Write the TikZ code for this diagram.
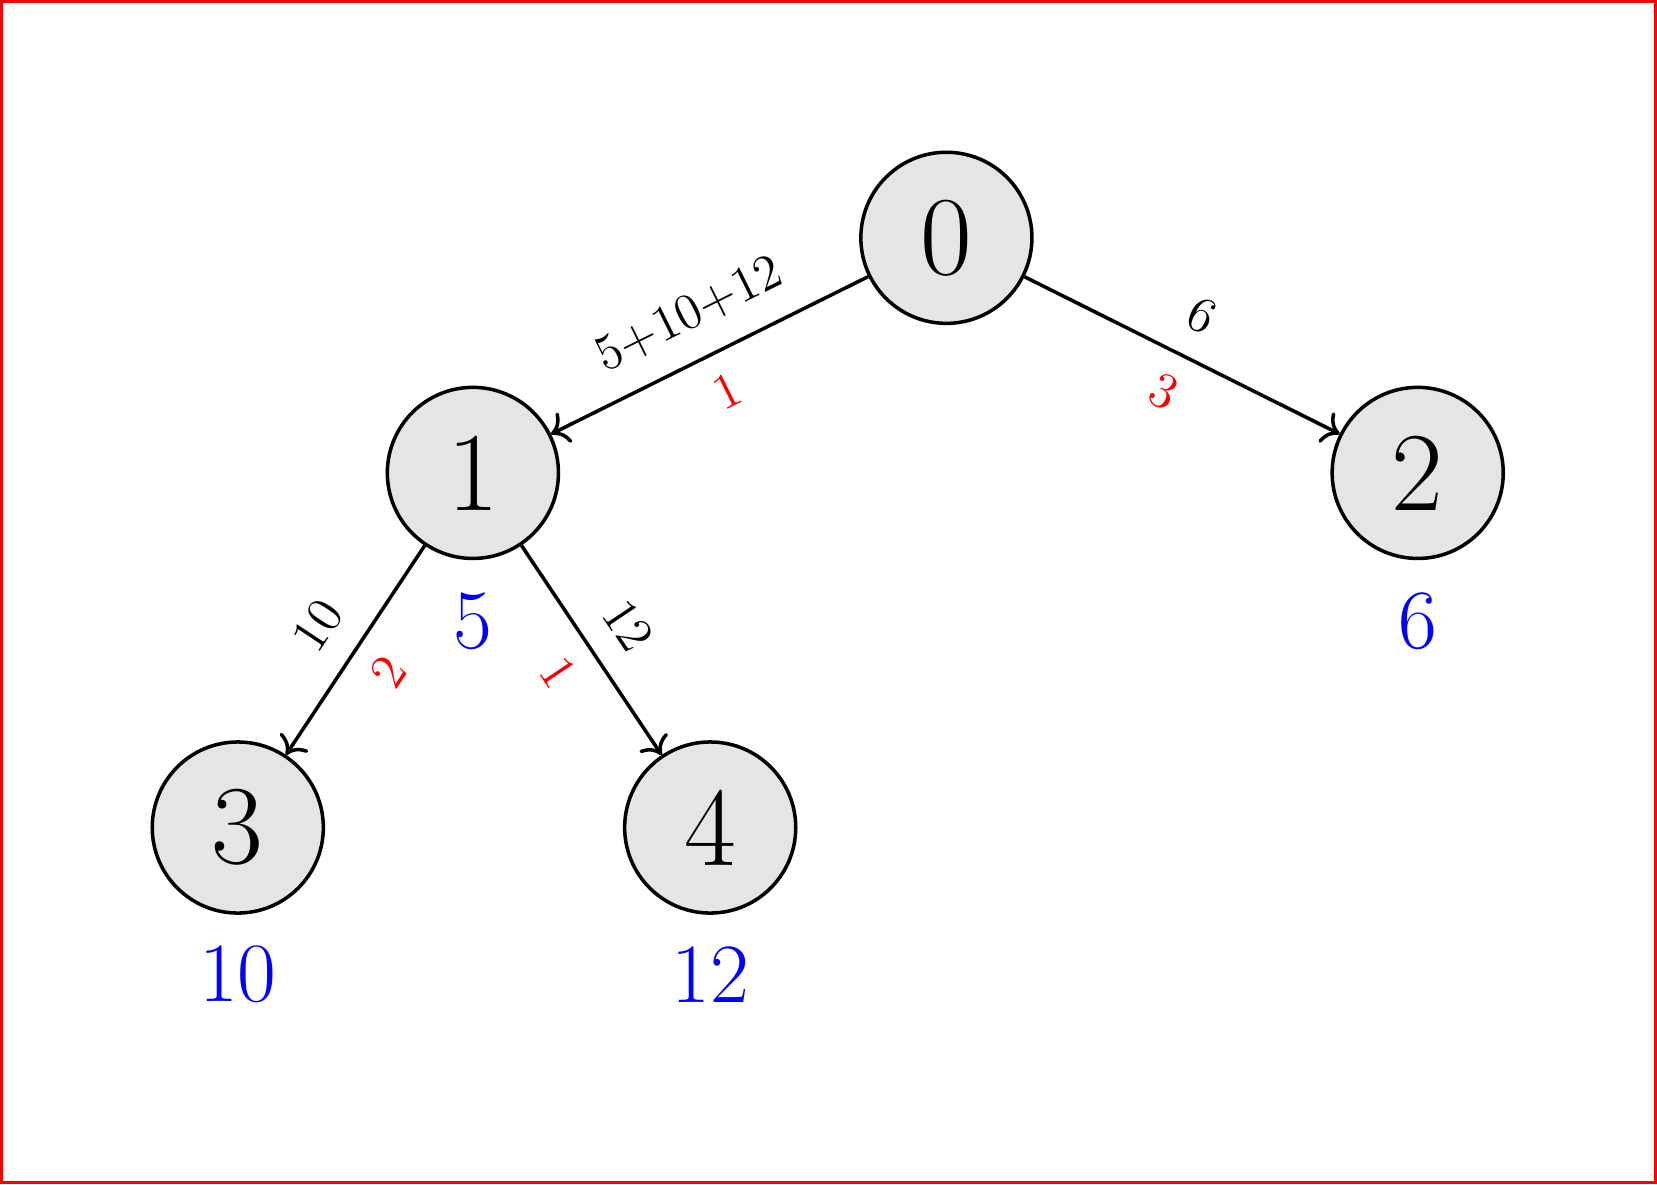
\documentclass[tikz,border=0pt]{standalone}
\usetikzlibrary{arrows.meta}
\begin{document}
\begin{tikzpicture}[x=0.01cm,y=-0.01cm,
  vert/.style={circle, draw, line width=1pt, fill=black!10, minimum size=1.71cm, inner sep=0pt, font=\fontsize{32}{36}\selectfont},
  val/.style={text=blue, inner sep=0pt, font=\fontsize{24}{28}\selectfont},
  edge/.style={-{To[scale=1.2]}, line width=1pt},
  wt/.style={sloped, above=7.3pt, inner sep=0pt, font=\fontsize{14.4}{16}\selectfont},
  cnt/.style={sloped, below=5.9pt, inner sep=0pt, text=red, font=\fontsize{14.4}{16}\selectfont}]
\useasboundingbox (0,0) rectangle (1657,1184);
\draw[red, line width=0.9pt] (1.6,1.6) rectangle (1655.4,1182.4);

\node[vert] (n0) at (946.4,237.8) {0};
\node[vert] (n1) at (472.9,472.9) {1};
\node[vert] (n2) at (1417.7,472.9) {2};
\node[vert] (n3) at (237.8,827.5) {3};
\node[vert] (n4) at (710.2,827.5) {4};

\node[val] (v1) at (472.9,621) {5};
\node[val] (v2) at (1417.7,621) {6};
\node[val] (v3) at (237.8,974.5) {10};
\node[val] (v4) at (710.2,974.5) {12};

\draw[edge] (n0) -- node[wt] {5+10+12} node[cnt] {1} (n1);
\draw[edge] (n0) -- node[wt] {6} node[cnt] {3} (n2);
\draw[edge] (n1) -- node[wt] {10} node[cnt] {2} (n3);
\draw[edge] (n1) -- node[wt] {12} node[cnt] {1} (n4);
\end{tikzpicture}
\end{document}
